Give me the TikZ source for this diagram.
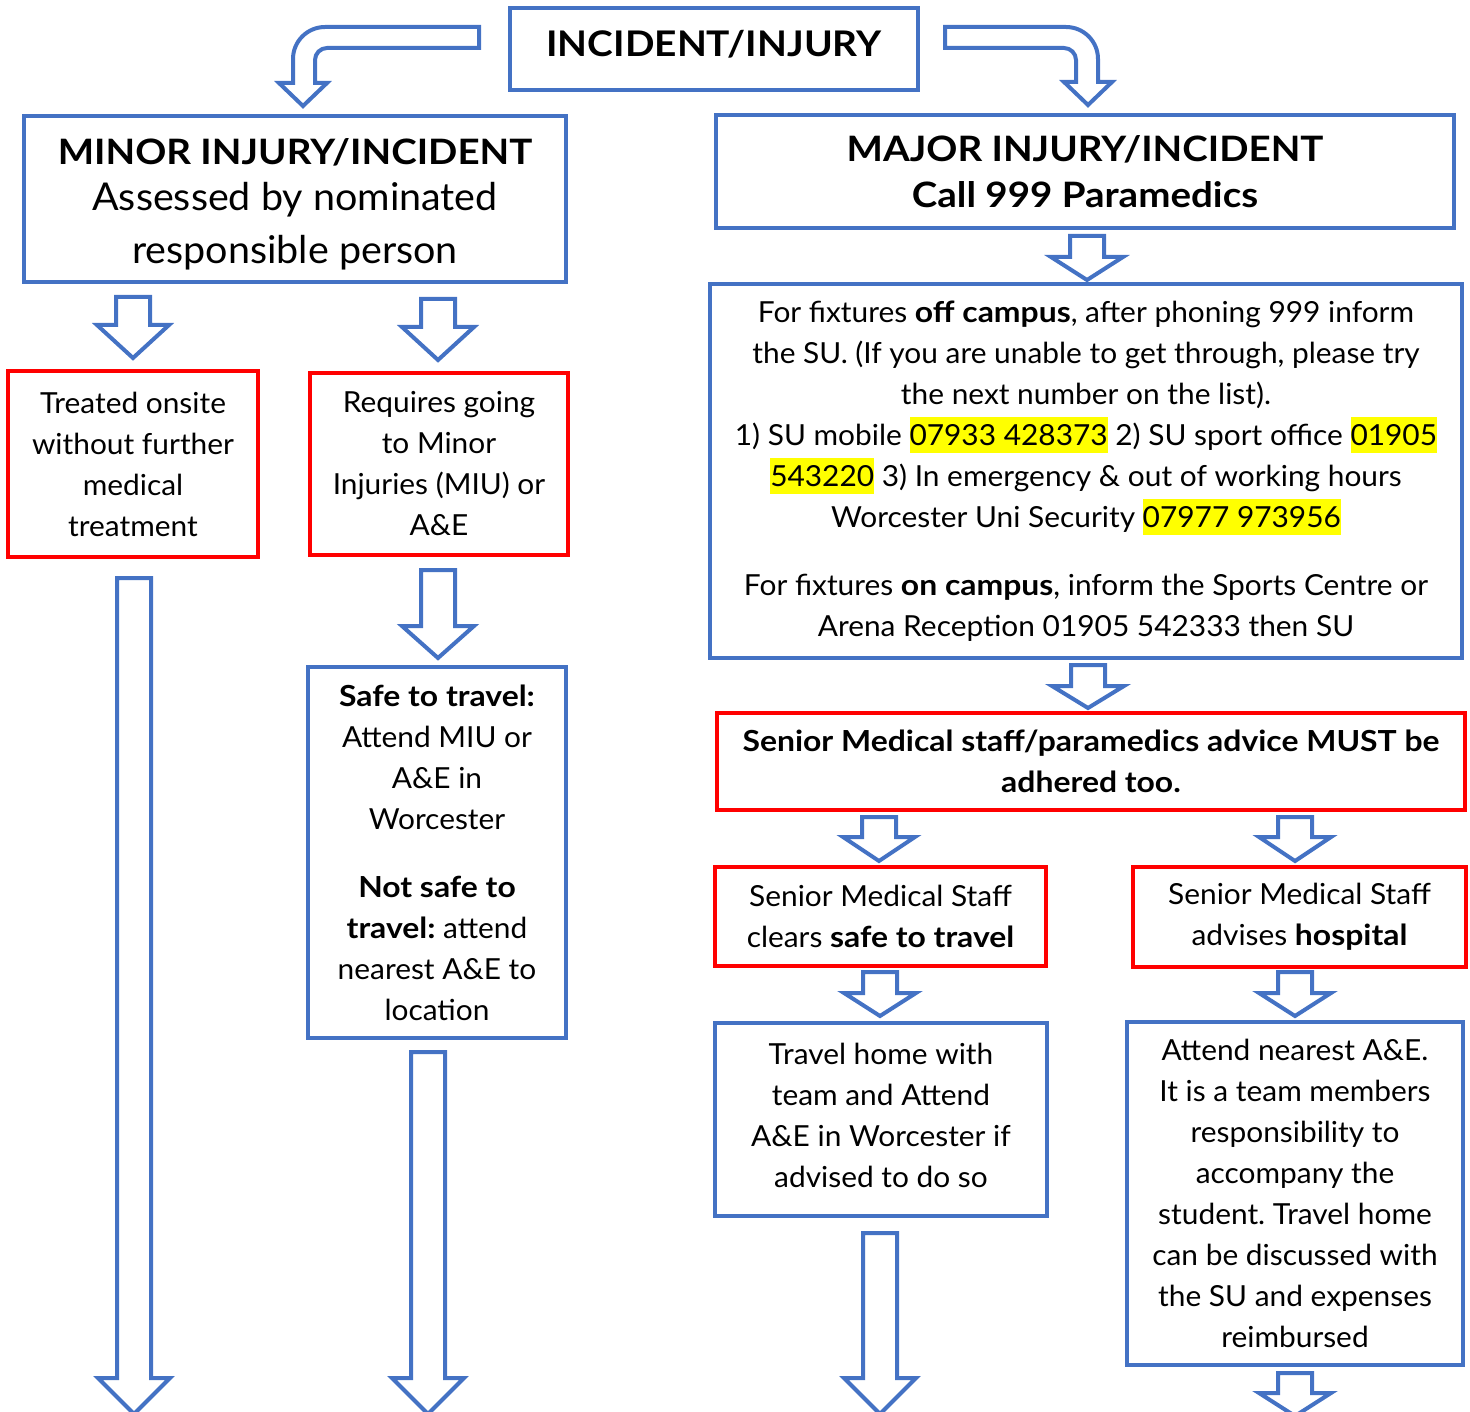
\documentclass[tikz,border=0pt]{standalone}
\usepackage{fontspec}
\setmainfont{Lato}[FakeStretch=1.03, BoldFeatures={FakeStretch=1.1}]
\frenchspacing
\usetikzlibrary{calc}
\definecolor{oblue}{HTML}{4472C4}
\definecolor{ored}{HTML}{FF0000}
\definecolor{hly}{HTML}{FFFF00}
\newcommand\hl[1]{{\setlength\fboxsep{0pt}\colorbox{hly}{\rule[-8pt]{0pt}{36pt}#1}}}
\newcommand\barrow[4]{\draw[arrowline] (#1-17,#2) -- (#1+17,#2) -- (#1+17,#3) -- (#1+36,#3) -- (#1,#4) -- (#1-36,#3) -- (#1-17,#3) -- cycle;}
\tikzset{
  bodyfont/.style={font=\fontsize{29}{41}\selectfont},
  bluebox/.style={draw=oblue, line width=3.5pt, align=center, inner sep=0pt, bodyfont},
  redbox/.style={draw=ored, line width=4.5pt, align=center, inner sep=0pt, bodyfont},
  arrowline/.style={draw=oblue, line width=4pt, fill=white, line join=miter},
}
\begin{document}
\begin{tikzpicture}[x=1pt,y=-1pt]
\useasboundingbox (0,0) rectangle (1470,1412);
\clip (0,0) rectangle (1470,1412);

% boxes
\node[bluebox, minimum width=408, minimum height=82] (inc) at (714,49) {};
\node[anchor=base, font=\fontsize{35.3}{45}\selectfont\bfseries] (inct) at (714,57) {INCIDENT/INJURY};

\node[bluebox, minimum width=542, minimum height=166] (minor) at (295,199) {};
\node[align=center, inner sep=0pt, font=\fontsize{38.3}{53}\selectfont] (minort) at (295,204)
  {{\fontsize{35}{46}\selectfont\bfseries MINOR INJURY/INCIDENT}\\[-7pt]Assessed by nominated\\responsible person};

\node[bluebox, minimum width=738, minimum height=113, font=\fontsize{35}{46}\selectfont\bfseries] (major) at (1085,171.5)
  {MAJOR INJURY/INCIDENT\\Call 999 Paramedics};

\node[bluebox, minimum width=752, minimum height=374] (info) at (1086,471)
  {For fixtures \textbf{off campus}, after phoning 999 inform\\
   the SU. (If you are unable to get through, please try\\
   the next number on the list).\\
   1) SU mobile \hl{07933 428373} 2) SU sport office \hl{01905}\\
   \hl{543220} 3) In emergency \& out of working hours\\
   Worcester Uni Security \hl{07977 973956}\\[27pt]
   For fixtures \textbf{on campus}, inform the Sports Centre or\\
   Arena Reception 01905 542333 then SU};

\node[redbox, minimum width=748, minimum height=97, font=\fontsize{29}{41}\selectfont\bfseries] (senior) at (1091,761.5)
  {Senior Medical staff/paramedics advice MUST be\\adhered too.};

\node[redbox, minimum width=331, minimum height=99] (safe) at (880.5,916.5)
  {Senior Medical Staff\\clears \textbf{safe to travel}};
\node[redbox, minimum width=333, minimum height=100] (hosp) at (1299.5,917)
  {Senior Medical Staff\\advises \textbf{hospital}};

\node[bluebox, minimum width=332, minimum height=193] (travel) at (881,1119.5) {};
\node[align=center, inner sep=0pt, bodyfont] (travelt) at (881,1115)
  {Travel home with\\team and Attend\\A\&E in Worcester if\\advised to do so};
\node[bluebox, minimum width=336, minimum height=343] (attend) at (1295,1193.5)
  {Attend nearest A\&E.\\It is a team members\\responsibility to\\accompany the\\student. Travel home\\can be discussed with\\the SU and expenses\\reimbursed};

\node[redbox, minimum width=250, minimum height=186] (treated) at (133,464)
  {Treated onsite\\without further\\medical\\treatment};
\node[redbox, minimum width=258, minimum height=182] (requires) at (439,464)
  {Requires going\\to Minor\\Injuries (MIU) or\\A\&E};
\node[bluebox, minimum width=258, minimum height=371] (safetravel) at (437,852.5)
  {\textbf{Safe to travel:}\\Attend MIU or\\A\&E in\\Worcester\\[27pt]
   \textbf{Not safe to}\\\textbf{travel:} attend\\nearest A\&E to\\location};

% bent arrows from the top box
\draw[arrowline] (479,27) -- (325,27) .. controls (307.3,27) and (293,41.3) .. (293,59)
  -- (293,83) -- (279,83) -- (303,106) -- (327,83) -- (315,83) -- (315,60)
  .. controls (315,53.4) and (320.4,48) .. (327,48) -- (479,48) -- cycle;
\draw[arrowline] (945,27) -- (1066,27) .. controls (1083.7,27) and (1098,41.3) .. (1098,59)
  -- (1098,82) -- (1112,82) -- (1088,105) -- (1064,82) -- (1076,82) -- (1076,60)
  .. controls (1076,53.4) and (1070.6,48) .. (1064,48) -- (945,48) -- cycle;

% block arrows
\barrow{133}{297}{325}{358}
\barrow{438}{299}{327}{360}
\barrow{438}{570}{626}{658}
\barrow{134}{578}{1378}{1414}
\barrow{428}{1052}{1378}{1414}
\barrow{1087}{236}{257}{280}
\barrow{1088}{665}{686}{708}
\barrow{879}{817}{837}{861}
\barrow{1295}{817}{837}{861}
\barrow{880}{972}{993}{1016}
\barrow{1295}{972}{993}{1016}
\barrow{880}{1233}{1378}{1414}
\barrow{1295}{1373}{1393}{1416}
\end{tikzpicture}
\end{document}
